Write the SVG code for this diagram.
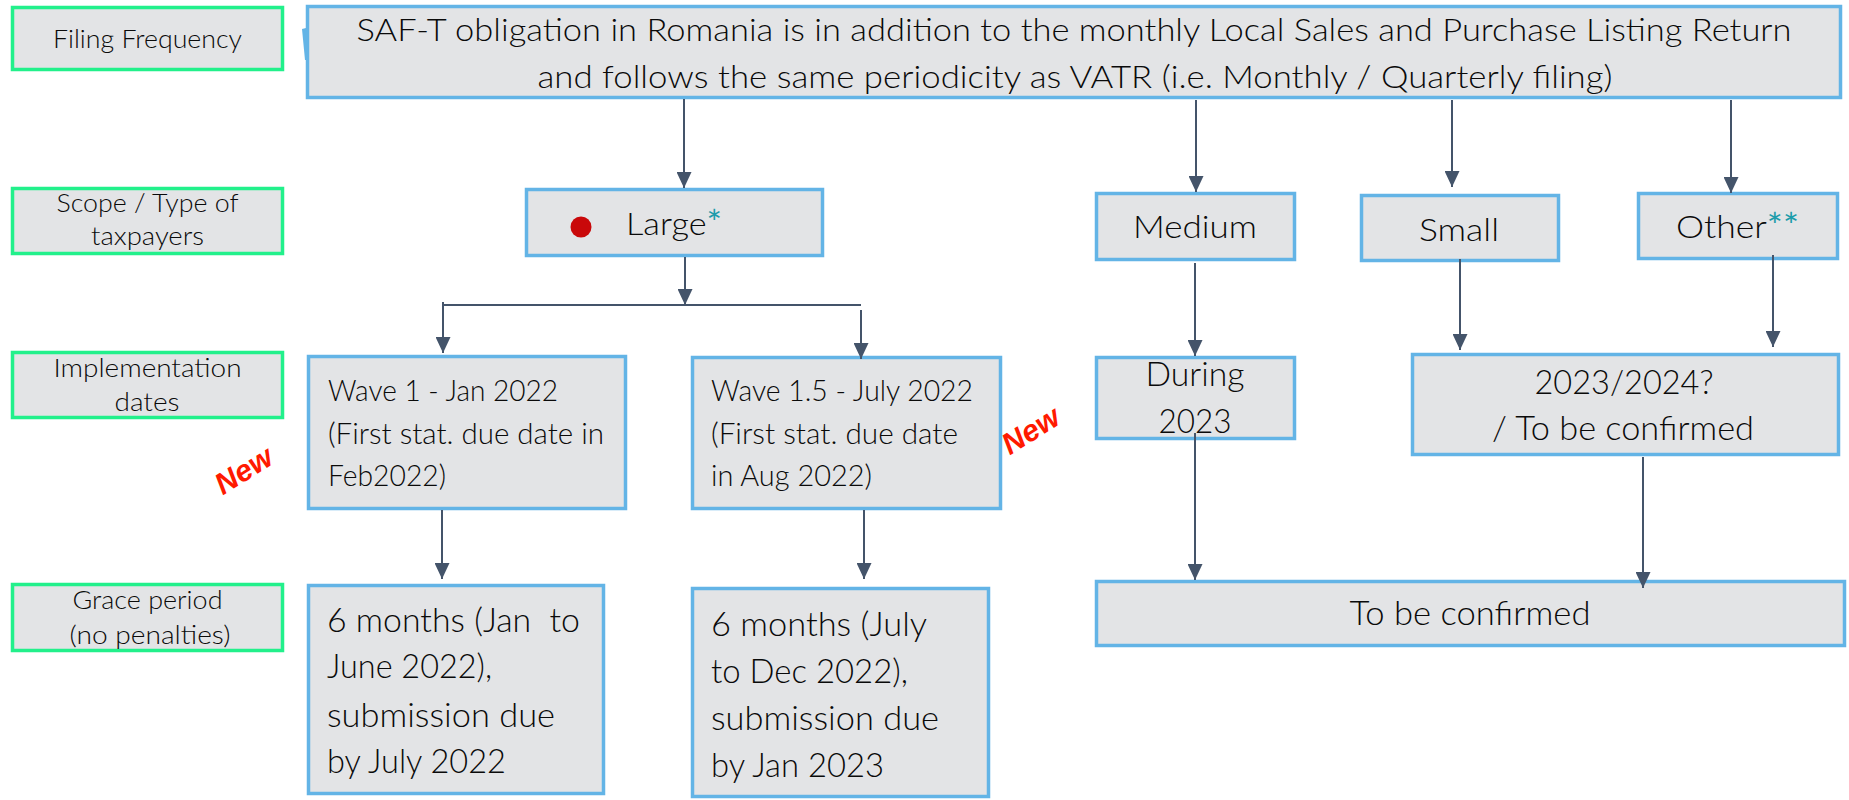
<svg xmlns="http://www.w3.org/2000/svg" width="1849" height="800" viewBox="0 0 1849 800">
<defs>
<style>
.lbl{fill:#E3E4E6;stroke:#22F08B;stroke-width:3.5}
.box{fill:#E3E4E6;stroke:#63B4E6;stroke-width:3.5}
text{font-family:Lato,"Liberation Sans",sans-serif;font-weight:300;fill:#0A0A0A}
.s25{font-size:25px}
.s29{font-size:29px}
.s31{font-size:31px}
.s32{font-size:32px}
.s33{font-size:33px}
.c{text-anchor:middle}
.ast{fill:#1C9CAB;font-weight:400;font-size:34px}
.conn{fill:none;stroke:#44546A;stroke-width:2}
.new{font-family:"Liberation Sans",Arial,sans-serif;font-weight:bold;font-style:italic;font-size:30px;fill:#FF1A00}
</style>
<marker id="arr" viewBox="0 0 16 15" markerWidth="16" markerHeight="15" refX="16" refY="7.5" orient="auto" markerUnits="userSpaceOnUse">
<path d="M0,0 L16,7.5 L0,15 z" fill="#44546A"/>
</marker>
</defs>
<rect width="1849" height="800" fill="#FFFFFF"/>

<g id="label-filing">
<rect class="lbl" x="12.5" y="7.5" width="270" height="62"/>
<text class="s25 c" x="147.5" y="48" textLength="189" lengthAdjust="spacingAndGlyphs">Filing Frequency</text>
</g>
<g id="label-scope">
<rect class="lbl" x="12.5" y="188.5" width="270" height="65"/>
<text class="s25 c" x="147.5" y="212" textLength="182" lengthAdjust="spacingAndGlyphs">Scope / Type of</text>
<text class="s25 c" x="147.5" y="245" textLength="113" lengthAdjust="spacingAndGlyphs">taxpayers</text>
</g>
<g id="label-impl">
<rect class="lbl" x="12.5" y="352.5" width="270" height="65"/>
<text class="s25 c" x="147.5" y="377" textLength="188" lengthAdjust="spacingAndGlyphs">Implementation</text>
<text class="s25 c" x="147" y="411" textLength="65" lengthAdjust="spacingAndGlyphs">dates</text>
</g>
<g id="label-grace">
<rect class="lbl" x="12.5" y="584.5" width="270" height="66"/>
<text class="s25 c" x="147.5" y="609" textLength="150" lengthAdjust="spacingAndGlyphs">Grace period</text>
<text class="s25 c" x="150" y="644" textLength="161" lengthAdjust="spacingAndGlyphs">(no penalties)</text>
</g>

<g id="node-main">
<rect class="box" x="307.5" y="6.5" width="1533" height="91"/>
<polygon points="306,28 302,29 305,60 306,60" fill="#63B4E6"/>
<text class="s31 c" x="1074" y="41" textLength="1435" lengthAdjust="spacingAndGlyphs">SAF-T obligation in Romania is in addition to the monthly Local Sales and Purchase Listing Return</text>
<text class="s31 c" x="1075" y="88" textLength="1075" lengthAdjust="spacingAndGlyphs">and follows the same periodicity as VATR (i.e. Monthly / Quarterly filing)</text>
</g>

<g id="node-large">
<rect class="box" x="526.5" y="189.5" width="296" height="66"/>
<circle cx="581" cy="227" r="10.5" fill="#C9080A"/>
<text class="s32" x="626" y="235" textLength="96" lengthAdjust="spacingAndGlyphs">Large<tspan class="ast">*</tspan></text>
</g>
<g id="node-medium">
<rect class="box" x="1096.5" y="193.5" width="198" height="66"/>
<text class="s32 c" x="1195" y="238" textLength="124" lengthAdjust="spacingAndGlyphs">Medium</text>
</g>
<g id="node-small">
<rect class="box" x="1361.5" y="195.5" width="197" height="65"/>
<text class="s32 c" x="1459" y="241" textLength="80" lengthAdjust="spacingAndGlyphs">Small</text>
</g>
<g id="node-other">
<rect class="box" x="1638.5" y="193.5" width="199" height="65"/>
<text class="s32" x="1676" y="238" textLength="123" lengthAdjust="spacingAndGlyphs">Other<tspan class="ast">**</tspan></text>
</g>

<g id="node-wave1">
<rect class="box" x="308.5" y="356.5" width="317" height="152"/>
<text class="s29" x="328" y="401" textLength="230" lengthAdjust="spacingAndGlyphs">Wave 1 - Jan 2022</text>
<text class="s29" x="328" y="444" textLength="276" lengthAdjust="spacingAndGlyphs">(First stat. due date in</text>
<text class="s29" x="328" y="486" textLength="118" lengthAdjust="spacingAndGlyphs">Feb2022)</text>
</g>
<g id="node-wave15">
<rect class="box" x="692.5" y="357.5" width="308" height="151"/>
<text class="s29" x="711" y="401" textLength="262" lengthAdjust="spacingAndGlyphs">Wave 1.5 - July 2022</text>
<text class="s29" x="711" y="444" textLength="247" lengthAdjust="spacingAndGlyphs">(First stat. due date</text>
<text class="s29" x="711" y="486" textLength="161" lengthAdjust="spacingAndGlyphs">in Aug 2022)</text>
</g>
<g id="new-left">
<text class="new c" transform="translate(249 479) rotate(-32)" textLength="62" lengthAdjust="spacingAndGlyphs">New</text>
</g>
<g id="new-right">
<text class="new c" transform="translate(1036 439) rotate(-32)" textLength="62" lengthAdjust="spacingAndGlyphs">New</text>
</g>

<g id="node-during">
<rect class="box" x="1096.5" y="357.5" width="198" height="81"/>
<text class="s33 c" x="1195" y="386" textLength="99" lengthAdjust="spacingAndGlyphs">During</text>
<text class="s33 c" x="1195" y="433" textLength="73" lengthAdjust="spacingAndGlyphs">2023</text>
</g>
<g id="node-2023">
<rect class="box" x="1412.5" y="354.5" width="426" height="100"/>
<text class="s33 c" x="1624" y="394" textLength="179" lengthAdjust="spacingAndGlyphs">2023/2024?</text>
<text class="s33 c" x="1623" y="440" textLength="262" lengthAdjust="spacingAndGlyphs">/ To be confirmed</text>
</g>
<g id="node-tbc">
<rect class="box" x="1096.5" y="581.5" width="748" height="64"/>
<text class="s33 c" x="1470" y="625" textLength="241" lengthAdjust="spacingAndGlyphs">To be confirmed</text>
</g>

<g id="node-grace1">
<rect class="box" x="308.5" y="585.5" width="295" height="208"/>
<text class="s33" x="327" y="632" textLength="253" lengthAdjust="spacingAndGlyphs" xml:space="preserve">6 months (Jan  to</text>
<text class="s33" x="327" y="678" textLength="165" lengthAdjust="spacingAndGlyphs">June 2022),</text>
<text class="s33" x="327" y="727" textLength="228" lengthAdjust="spacingAndGlyphs">submission due</text>
<text class="s33" x="327" y="773" textLength="179" lengthAdjust="spacingAndGlyphs">by July 2022</text>
</g>
<g id="node-grace2">
<rect class="box" x="692.5" y="588.5" width="296" height="208"/>
<text class="s33" x="711" y="636" textLength="216" lengthAdjust="spacingAndGlyphs">6 months (July</text>
<text class="s33" x="711" y="683" textLength="197" lengthAdjust="spacingAndGlyphs">to Dec 2022),</text>
<text class="s33" x="711" y="730" textLength="228" lengthAdjust="spacingAndGlyphs">submission due</text>
<text class="s33" x="711" y="777" textLength="173" lengthAdjust="spacingAndGlyphs">by Jan 2023</text>
</g>

<g id="connectors">
<path class="conn" d="M684,99 V188" marker-end="url(#arr)"/>
<path class="conn" d="M1196,100 V192" marker-end="url(#arr)"/>
<path class="conn" d="M1452,100 V187" marker-end="url(#arr)"/>
<path class="conn" d="M1731,100 V193" marker-end="url(#arr)"/>
<path class="conn" d="M685,257 V305" marker-end="url(#arr)"/>
<path class="conn" d="M443,305 H861"/>
<path class="conn" d="M443,302 V353" marker-end="url(#arr)"/>
<path class="conn" d="M861,310 V359" marker-end="url(#arr)"/>
<path class="conn" d="M442,510 V579" marker-end="url(#arr)"/>
<path class="conn" d="M864,510 V579" marker-end="url(#arr)"/>
<path class="conn" d="M1195,263 V356" marker-end="url(#arr)"/>
<path class="conn" d="M1460,259 V350" marker-end="url(#arr)"/>
<path class="conn" d="M1773,255 V347" marker-end="url(#arr)"/>
<path class="conn" d="M1195,433 V580" marker-end="url(#arr)"/>
<path class="conn" d="M1643,457 V588" marker-end="url(#arr)"/>
</g>
</svg>
